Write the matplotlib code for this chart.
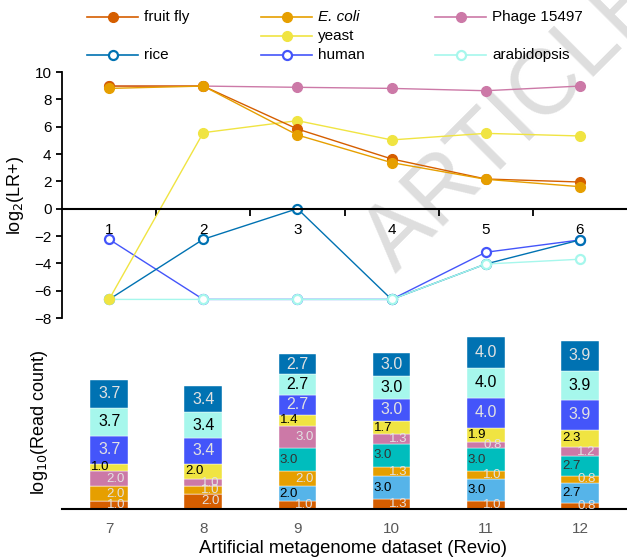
import matplotlib
matplotlib.use('Agg')
import matplotlib.pyplot as plt
from matplotlib.lines import Line2D
import numpy as np

plt.rcParams['font.family'] = ['Liberation Sans', 'DejaVu Sans']

# ---- top panel: log2(LR+) per dataset ----
datasets_top = [1, 2, 3, 4, 5, 6]
fruit_fly = [8.97, 8.97, 5.83, 3.64, 2.17, 1.95]
e_coli = [8.80, 8.97, 5.39, 3.37, 2.15, 1.61]
phage = [8.97, 8.97, 8.88, 8.80, 8.63, 8.97]
yeast = [-6.64, 5.56, 6.44, 5.03, 5.51, 5.32]
rice = [-6.64, -2.24, 0.0, -6.64, -4.05, -2.29]
human = [-2.24, -6.64, -6.64, -6.64, -3.19, -2.29]
arabidopsis = [-6.64, -6.64, -6.64, -6.64, -4.05, -3.70]

# ---- bottom panel: log10(read count), stacked segments bottom -> top ----
datasets_bot = [7, 8, 9, 10, 11, 12]
seg_fruit_fly = [1.0, 2.0, 1.0, 1.3, 1.0, 0.8]
seg_lightblue = [0.0, 0.0, 2.0, 3.0, 3.0, 2.7]
seg_e_coli = [2.0, 1.0, 2.0, 1.3, 1.0, 0.8]
seg_teal = [0.0, 0.0, 3.0, 3.0, 3.0, 2.7]
seg_phage = [2.0, 1.0, 3.0, 1.3, 0.8, 1.2]
seg_yeast = [1.0, 2.0, 1.4, 1.7, 1.9, 2.3]
seg_human = [3.7, 3.4, 2.7, 3.0, 4.0, 3.9]
seg_arabidopsis = [3.7, 3.4, 2.7, 3.0, 4.0, 3.9]
seg_rice = [3.7, 3.4, 2.7, 3.0, 4.0, 3.9]

C_FLY = '#D55E00'; C_ECOLI = '#E69F00'; C_PHAGE = '#CC79A7'; C_YEAST = '#F0E442'
C_RICE = '#0072B2'; C_HUMAN = '#4455FA'; C_ARAB = '#A6F7EC'
C_LBLUE = '#56B4E9'; C_TEAL = '#00BDBD'
LIGHT = '#E2E2E2'

W, H = 6.27, 5.60
fig = plt.figure(figsize=(W, H), dpi=100)

def fx(px): return px / 627.0
def fy(py): return 1 - py / 560.0

# watermark
fig.text(fx(515), fy(121), 'ARTICLE', fontsize=66, color='#DEDEDE', rotation=45,
         ha='center', va='center', zorder=-1)

ax = fig.add_axes([fx(62), fy(318), fx(565), 246 / 560.0])
ax.set_facecolor('none')
open_kw = dict(lw=1.0, marker='o', ms=6.5, mfc='white', mew=1.6)
fill_kw = dict(lw=1.0, marker='o', ms=7)
ax.plot(datasets_top, human, color=C_HUMAN, mec=C_HUMAN, **open_kw)
ax.plot(datasets_top, rice, color=C_RICE, mec=C_RICE, **open_kw)
ax.plot(datasets_top, arabidopsis, color=C_ARAB, mec=C_ARAB, **open_kw)
ax.plot(datasets_top, phage, color=C_PHAGE, **fill_kw)
ax.plot(datasets_top, yeast, color=C_YEAST, **fill_kw)
ax.plot(datasets_top, fruit_fly, color=C_FLY, **fill_kw)
ax.plot(datasets_top, e_coli, color=C_ECOLI, **fill_kw)

ax.set_xlim(0.5, 6.5)
ax.set_ylim(-8, 10)
ax.set_yticks(np.arange(-8, 11, 2))
ax.set_xticks(datasets_top)
ax.set_xticks([1.5, 2.5, 3.5, 4.5, 5.5], minor=True)
ax.tick_params(axis='x', which='major', length=0, pad=10, labelsize=11)
ax.tick_params(axis='x', which='minor', length=5, width=1.3, direction='out')
ax.tick_params(axis='y', length=4, width=1.3, labelsize=11)
ax.spines['bottom'].set_position(('data', 0))
for s in ['top', 'right']:
    ax.spines[s].set_visible(False)
ax.spines['bottom'].set_linewidth(1.5)
ax.spines['left'].set_linewidth(1.3)
ax.set_ylabel('log$_2$(LR+)', fontsize=13)
ax.yaxis.set_label_coords(-0.064, 0.5)

# legend drawn in figure coordinates
legend_entries = [
    ('fruit fly', C_FLY, True, 87, 17),
    ('E. coli', C_ECOLI, True, 261, 17),
    ('Phage 15497', C_PHAGE, True, 435, 17),
    ('yeast', C_YEAST, True, 261, 36),
    ('rice', C_RICE, False, 87, 55),
    ('human', C_HUMAN, False, 261, 55),
    ('arabidopsis', C_ARAB, False, 435, 55),
]
for name, col, filled, x0, y0 in legend_entries:
    fig.add_artist(Line2D([fx(x0), fx(x0 + 51)], [fy(y0), fy(y0)], color=col, lw=1.2))
    fig.add_artist(Line2D([fx(x0 + 25.5)], [fy(y0)], marker='o', color=col,
                          ms=6.5 if not filled else 7, mfc=col if filled else 'white',
                          mec=col, mew=1.6 if not filled else 1))
    fig.text(fx(x0 + 57), fy(y0), name, fontsize=11, va='center', ha='left',
             style='italic' if name == 'E. coli' else 'normal')

# ---- bottom panel ----
bx = fig.add_axes([fx(62), fy(509), fx(565), 174 / 560.0])
bx.set_facecolor('none')
segments = [
    (seg_fruit_fly, C_FLY, 'right', LIGHT, 9.5),
    (seg_lightblue, C_LBLUE, 'left', 'black', 9.5),
    (seg_e_coli, C_ECOLI, 'right', LIGHT, 9.5),
    (seg_teal, C_TEAL, 'left', '#333333', 9.5),
    (seg_phage, C_PHAGE, 'right', LIGHT, 9.5),
    (seg_yeast, C_YEAST, 'left', 'black', 9.5),
    (seg_human, C_HUMAN, 'center', LIGHT, 11.5),
    (seg_arabidopsis, C_ARAB, 'center', 'black', 11.5),
    (seg_rice, C_RICE, 'center', LIGHT, 11.5),
]
bw = 0.4
bottom = np.zeros(len(datasets_bot))
for vals, col, align, tcol, fs in segments:
    vals = np.array(vals)
    bx.bar(datasets_bot, vals, bw, bottom=bottom, color=col, edgecolor='white', lw=0.3)
    for xi, v, b in zip(datasets_bot, vals, bottom):
        if v <= 0:
            continue
        if align == 'right':
            tx = xi + bw / 2 - 0.03
        elif align == 'left':
            tx = xi - bw / 2 + 0.01
        else:
            tx = xi
        bx.text(tx, b + v / 2, f'{v:.1f}', ha=align, va='center', color=tcol, fontsize=fs)
    bottom += vals

bx.set_xlim(6.5, 12.5)
bx.set_ylim(0, 23)
bx.set_xticks(datasets_bot)
bx.set_yticks([])
bx.tick_params(axis='x', length=0, pad=9.5, labelsize=11, labelcolor='#595959')
for s in ['top', 'right', 'left']:
    bx.spines[s].set_visible(False)
bx.spines['bottom'].set_linewidth(1.5)
bx.set_ylabel('log$_{10}$(Read count)', fontsize=13)
bx.yaxis.set_label_coords(-0.021, 0.5)
bx.set_xlabel('Artificial metagenome dataset (Revio)', fontsize=13.3)
bx.xaxis.set_label_coords(0.515, -0.18)

fig.savefig('out.png', dpi=100, facecolor='white')
